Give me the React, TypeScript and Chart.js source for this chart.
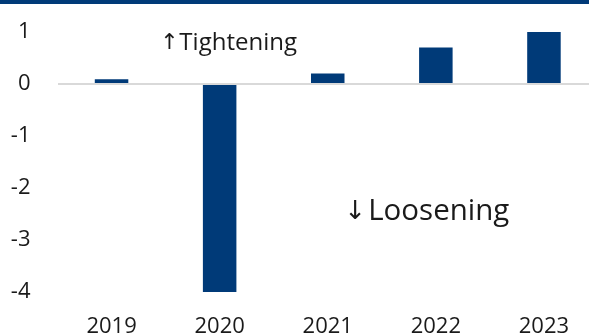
import React, { useEffect, useRef } from "react";
import { Chart, registerables } from "chart.js";

Chart.register(...registerables);

const categories = ["2019", "2020", "2021", "2022", "2023"];
const values = [0.09, -4.0, 0.2, 0.7, 1.0];
const yTicks = [1, 0, -1, -2, -3, -4];
const upArrow = "↑";
const upLabel = "Tightening";
const downArrow = "↓";
const downLabel = "Loosening";

const NAVY = "#003a78";
const FONT = "'Open Sans', sans-serif";
const ARROW_FONT = "'DejaVu Sans', sans-serif";

export default function App() {
  const ref = useRef<HTMLCanvasElement | null>(null);

  useEffect(() => {
    if (!ref.current) return;
    document.body.style.margin = "0";
    const overlay = {
      id: "overlay",
      afterDraw(chart: any) {
        const ctx = chart.ctx;
        const x = chart.scales.x;
        const y = chart.scales.y;
        ctx.save();
        ctx.fillStyle = NAVY;
        ctx.fillRect(0, 0, chart.width, 4);
        ctx.fillStyle = "#1a1a1a";
        ctx.textBaseline = "middle";
        ctx.textAlign = "left";
        const ux = x.getPixelForValue(0.47);
        const uy = y.getPixelForValue(0.79);
        ctx.font = `22px ${ARROW_FONT}`;
        ctx.fillText(upArrow, ux - 2, uy);
        ctx.font = `24px ${FONT}`;
        ctx.fillText(upLabel, ux + 17, uy);
        const dx = x.getPixelForValue(2.18);
        const dy = y.getPixelForValue(-2.46);
        ctx.font = `26px ${ARROW_FONT}`;
        ctx.fillText(downArrow, dx - 3, dy);
        ctx.font = `29.5px ${FONT}`;
        ctx.fillText(downLabel, dx + 21, dy);
        ctx.restore();
      },
    };
    const chart = new Chart(ref.current, {
      type: "bar",
      data: {
        labels: categories,
        datasets: [
          {
            data: values,
            backgroundColor: NAVY,
            borderWidth: 0,
            barPercentage: 0.31,
            categoryPercentage: 1,
          },
        ],
      },
      options: {
        animation: false,
        responsive: false,
        maintainAspectRatio: false,
        layout: { padding: { top: 32, right: 0, left: 0, bottom: 0 } },
        plugins: { legend: { display: false }, tooltip: { enabled: false } },
        scales: {
          x: {
            grid: { display: false },
            border: { display: false },
            ticks: { font: { family: FONT, size: 22 }, color: "#1a1a1a", padding: 14, maxRotation: 0 },
            afterFit(s: any) {
              s.height = 44;
              s.paddingLeft = 0;
              s.paddingRight = 0;
            },
          },
          y: {
            min: -4,
            max: 1,
            afterBuildTicks(s: any) {
              s.ticks = yTicks.map((v) => ({ value: v }));
            },
            grid: {
              drawTicks: false,
              lineWidth: 2,
              color: (c: any) => (c.tick && c.tick.value === 0 ? "#d9d9d9" : "rgba(0,0,0,0)"),
            },
            border: { display: false },
            ticks: { font: { family: FONT, size: 22 }, color: "#1a1a1a", padding: 27 },
            afterFit(s: any) {
              s.width = 57.5;
              s.paddingTop = 0;
              s.paddingBottom = 0;
            },
          },
        },
      },
      plugins: [overlay],
    });
    return () => chart.destroy();
  }, []);

  return (
    <div style={{ position: "absolute", left: 0, top: 0, width: 589, height: 336, overflow: "hidden", background: "#fff" }}>
      <canvas ref={ref} width={598} height={336} style={{ width: 598, height: 336, display: "block" }} />
    </div>
  );
}
